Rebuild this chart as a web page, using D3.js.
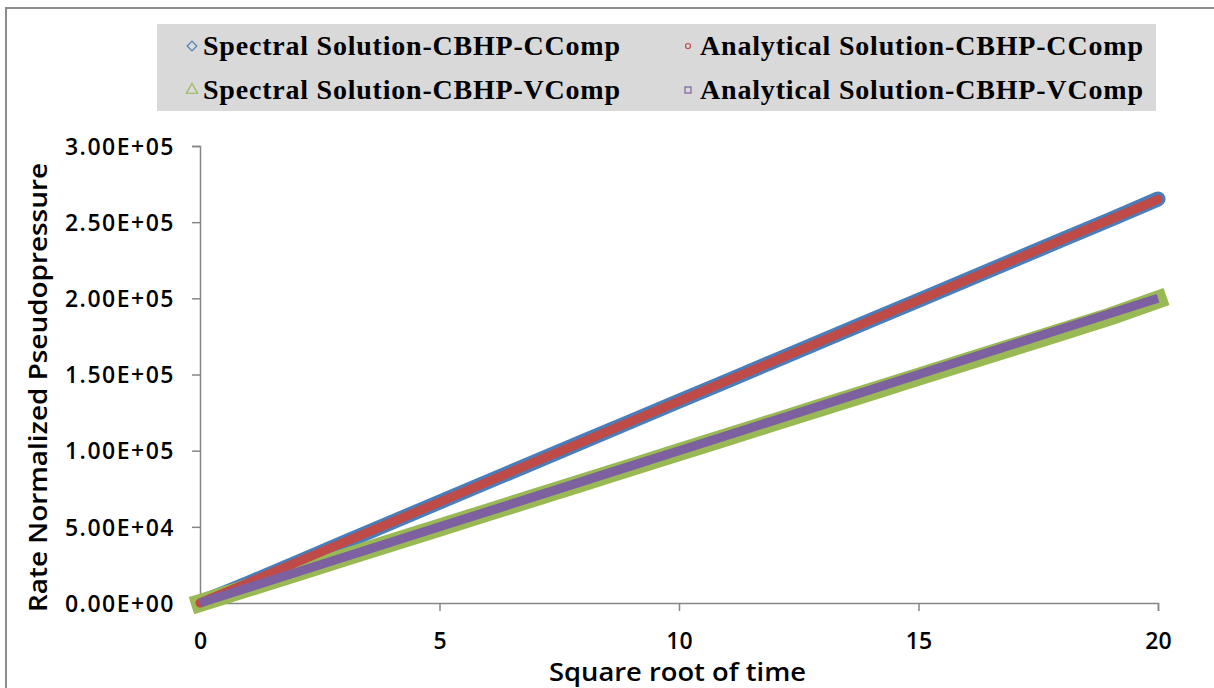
<!DOCTYPE html>
<html>
<head>
<meta charset="utf-8">
<script src="https://cdn.jsdelivr.net/npm/d3@7"></script>
<style>
  html, body { margin: 0; padding: 0; background: #fff; }
  svg { display: block; }
</style>
</head>
<body>
<svg id="chart" width="1214" height="688"></svg>
<script>
// Square root of time (x) samples
const sqrtTime = [0, 1, 2, 3, 4, 5, 6, 7, 8, 9, 10, 11, 12, 13, 14, 15, 16, 17, 18, 19, 20];

// Rate normalized pseudopressure for each solution
const spectralCComp = [0, 12900, 26200, 39600, 52900, 66200, 79500, 92700, 106000, 119200, 132500,
  145700, 159000, 172200, 185500, 198700, 212000, 225200, 238500, 251700, 265200];
const analyticalCComp = [0, 13250, 26500, 39750, 53000, 66250, 79500, 92750, 106000, 119250, 132500,
  145750, 159000, 172250, 185500, 198750, 212000, 225250, 238500, 251750, 265000];
const spectralVComp = [0, 9900, 19800, 29700, 39600, 49500, 59400, 69300, 79200, 89100, 99000,
  108900, 118800, 128700, 138600, 148500, 158400, 168300, 178200, 188100, 199200];
const analyticalVComp = [0, 10000, 20000, 30000, 40000, 50000, 60000, 70000, 80000, 90000, 100000,
  110000, 120000, 130000, 140000, 150000, 160000, 170000, 180000, 190000, 200000];

const xTicks = [0, 5, 10, 15, 20];
const yTicks = [0, 50000, 100000, 150000, 200000, 250000, 300000];
const yTickLabels = ["0.00E+00", "5.00E+04", "1.00E+05", "1.50E+05", "2.00E+05", "2.50E+05", "3.00E+05"];

const seriesNames = [
  "Spectral Solution-CBHP-CComp",
  "Analytical Solution-CBHP-CComp",
  "Spectral Solution-CBHP-VComp",
  "Analytical Solution-CBHP-VComp"
];

const svg = d3.select("#chart");

// outer chart frame (open to the right and bottom)
svg.append("path")
  .attr("d", "M6,700 L6,8 L1214,8")
  .attr("fill", "none")
  .attr("stroke", "#8c8c8c")
  .attr("stroke-width", 2);

const plot = { left: 200, right: 1158, top: 146, bottom: 603 };

const x = d3.scaleLinear().domain([0, 20]).range([plot.left, plot.right]);
const y = d3.scaleLinear().domain([0, 300000]).range([plot.bottom, plot.top]);

const axisColor = "#868686";
const sansFont = "'Open Sans', 'DejaVu Sans', sans-serif";

// y axis
const yAxis = svg.append("g")
  .attr("transform", `translate(${plot.left},0)`)
  .call(d3.axisLeft(y).tickValues(yTicks).tickSize(8).tickPadding(17)
    .tickFormat((d, i) => yTickLabels[i]));
yAxis.select(".domain").attr("stroke", axisColor).attr("stroke-width", 1.5);
yAxis.selectAll(".tick line").attr("stroke", axisColor).attr("stroke-width", 1.5);
yAxis.selectAll(".tick text")
  .attr("font-family", sansFont).attr("font-size", 23).attr("font-weight", 600)
  .attr("letter-spacing", 1.5)
  .attr("fill", "#000")
  .attr("dy", "0.36em");

// x axis
const xAxis = svg.append("g")
  .attr("transform", `translate(0,${plot.bottom})`)
  .call(d3.axisBottom(x).tickValues(xTicks).tickSize(8).tickPadding(22).tickFormat(d3.format("d")));
xAxis.select(".domain").attr("stroke", axisColor).attr("stroke-width", 1.5);
xAxis.selectAll(".tick line").attr("stroke", axisColor).attr("stroke-width", 1.5);
xAxis.selectAll(".tick text")
  .attr("font-family", sansFont).attr("font-size", 23).attr("font-weight", 600)
  .attr("fill", "#000");

// axis titles
svg.append("text")
  .attr("x", 549).attr("y", 681)
  .attr("textLength", 257).attr("lengthAdjust", "spacingAndGlyphs")
  .attr("font-family", sansFont).attr("font-size", 25).attr("font-weight", 600)
  .attr("fill", "#000")
  .text("Square root of time");

svg.append("text")
  .attr("transform", `translate(47,612) rotate(-90)`)
  .attr("textLength", 449).attr("lengthAdjust", "spacingAndGlyphs")
  .attr("font-family", sansFont).attr("font-size", 25).attr("font-weight", 600)
  .attr("fill", "#000")
  .text("Rate Normalized Pseudopressure");

// series drawn as thick bands of densely packed markers
const line = d3.line().x((d, i) => x(sqrtTime[i])).y(d => y(d));

const series = [
  { values: spectralCComp, color: "#4a7ebb", width: 15, cap: "round" },
  { values: analyticalCComp, color: "#be4b48", width: 9, cap: "round" },
  { values: spectralVComp, color: "#98b954", width: 18, cap: "square" },
  { values: analyticalVComp, color: "#7d60a0", width: 9, cap: "butt" }
];

// draw the wider spectral bands first so the analytical ones sit on top
[0, 2, 1, 3].forEach(k => {
  const s = series[k];
  svg.append("path")
    .datum(s.values)
    .attr("d", line)
    .attr("fill", "none")
    .attr("stroke", s.color)
    .attr("stroke-width", s.width)
    .attr("stroke-linecap", s.cap)
    .attr("stroke-linejoin", "round");
});

// legend
const legend = svg.append("g");
legend.append("rect")
  .attr("x", 157).attr("y", 24)
  .attr("width", 999).attr("height", 87)
  .attr("fill", "#d9d9d9");

const legendPos = [
  { x: 203, y: 55, w: 417 }, { x: 700, y: 55, w: 443 },
  { x: 203, y: 99, w: 417 }, { x: 700, y: 99, w: 443 }
];
const legendFont = "'Liberation Serif', 'Times New Roman', serif";

seriesNames.forEach((name, i) => {
  legend.append("text")
    .attr("x", legendPos[i].x).attr("y", legendPos[i].y)
    .attr("textLength", legendPos[i].w).attr("lengthAdjust", "spacing")
    .attr("font-family", legendFont).attr("font-weight", "bold")
    .attr("font-size", 28).attr("fill", "#000")
    .text(name);
});

// legend symbols
const mx = [192, 688];
legend.append("path")
  .attr("d", d3.symbol().type(d3.symbolDiamond2).size(60)())
  .attr("transform", `translate(${mx[0]},46)`)
  .attr("fill", "none").attr("stroke", "#4a7ebb").attr("stroke-width", 1.2);
legend.append("path")
  .attr("d", d3.symbol().type(d3.symbolTriangle2).size(90)())
  .attr("transform", `translate(${mx[0]},90)`)
  .attr("fill", "none").attr("stroke", "#98b954").attr("stroke-width", 1.2);
legend.append("circle")
  .attr("cx", mx[1]).attr("cy", 46).attr("r", 2.5)
  .attr("fill", "none").attr("stroke", "#be4b48").attr("stroke-width", 1.2);
legend.append("rect")
  .attr("x", mx[1] - 3).attr("y", 87).attr("width", 6).attr("height", 6)
  .attr("fill", "none").attr("stroke", "#7d60a0").attr("stroke-width", 1.2);
</script>
</body>
</html>
